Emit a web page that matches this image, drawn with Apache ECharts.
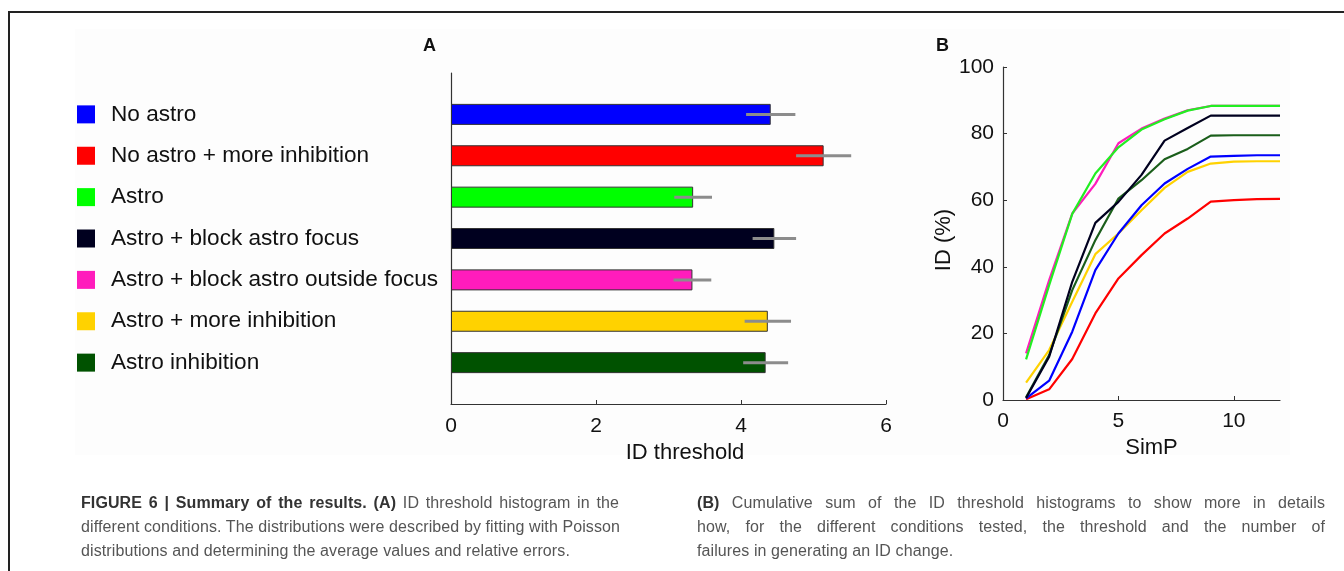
<!DOCTYPE html>
<html>
<head>
<meta charset="utf-8">
<script src="https://cdn.jsdelivr.net/npm/echarts@6/dist/echarts.min.js"></script>
<style>
html,body{margin:0;padding:0;background:#fff;}
#wrap{position:relative;width:1344px;height:571px;overflow:hidden;}
#chart{position:absolute;left:0;top:0;width:1344px;height:571px;}
.cap{position:absolute;top:491px;font-family:"Liberation Sans", Arial, Helvetica, sans-serif;font-size:16px;letter-spacing:0.1px;line-height:24px;color:#555;}
.cap div{white-space:nowrap;}
.cap .j{text-align:justify;text-align-last:justify;}
.cap b{color:#333;}
#cap1{left:81px;width:538px;}
#cap2{left:697px;width:628px;}
</style>
</head>
<body>
<div id="wrap">
<div id="chart"></div>
<div class="cap" id="cap1">
  <div class="j"><b>FIGURE 6 | Summary of the results. (A)</b> ID threshold histogram in the</div>
  <div class="j">different conditions. The distributions were described by fitting with Poisson</div>
  <div>distributions and determining the average values and relative errors.</div>
</div>
<div class="cap" id="cap2">
  <div class="j"><b>(B)</b> Cumulative sum of the ID threshold histograms to show more in details</div>
  <div class="j">how, for the different conditions tested, the threshold and the number of</div>
  <div>failures in generating an ID change.</div>
</div>
</div>
<script>
// ---- data ----
const conditions = ['No astro','No astro + more inhibition','Astro','Astro + block astro focus','Astro + block astro outside focus','Astro + more inhibition','Astro inhibition'];
const thresholdMean = [4.41, 5.14, 3.34, 4.46, 3.33, 4.37, 4.34];
const thresholdErr  = [0.34, 0.38, 0.26, 0.30, 0.26, 0.32, 0.31];
const thresholdTicks = [0, 2, 4, 6];

const simP = [1,2,3,4,5,6,7,8,9,10,11,12];
const idNoAstro        = [0.5, 5.8, 20.5, 39.0, 50.0, 58.5, 65.0, 69.4, 73.1, 73.3, 73.5, 73.5];
const idNoAstroMoreInh = [0.2, 3.2, 12.3, 26.0, 36.5, 43.5, 50.0, 54.5, 59.6, 60.0, 60.3, 60.4];
const idAstro          = [12.2, 34.5, 55.9, 68.0, 75.9, 81.2, 84.3, 86.9, 88.3, 88.3, 88.3, 88.3];
const idBlockFocus     = [0.6, 13.0, 35.5, 53.2, 59.5, 67.6, 77.9, 81.7, 85.4, 85.4, 85.4, 85.4];
const idBlockOutside   = [14.0, 36.0, 56.0, 64.9, 77.1, 81.5, 84.5, 87.0, 88.3, 88.3, 88.3, 88.3];
const idAstroMoreInh   = [5.2, 15.0, 29.5, 43.8, 50.0, 57.0, 63.7, 68.5, 71.0, 71.6, 71.7, 71.7];
const idAstroInh       = [0.8, 13.5, 33.0, 48.0, 60.5, 66.0, 72.3, 75.4, 79.4, 79.5, 79.5, 79.5];
const idTicks = [0, 20, 40, 60, 80, 100];
const simPTicks = [0, 5, 10];

// ---- styles ----
const colors = ['#0000ff','#ff0000','#00ff00','#00001f','#ff1cbc','#ffd200','#005200'];
const FONT = '"Liberation Sans", Arial, Helvetica, sans-serif';

const chart = echarts.init(document.getElementById('chart'), null, {renderer:'canvas'});

// category axis padded with empty slots at both ends
const yCats = [''].concat(conditions, ['']);
const barData = ['-'].concat(thresholdMean.map((v,i)=>({value:v, itemStyle:{color:colors[i]}})), ['-']);
const errData = thresholdMean.map((v,i)=>[i+1, v, thresholdErr[i]]);

const rich = { t: { fontSize: 22.6, fontFamily: FONT, color: '#111', padding: [0,0,0,16] } };
colors.forEach((c,i)=>{ rich['s'+i] = { width: 18, height: 18, backgroundColor: c }; });

const lineSets = [
  [idNoAstroMoreInh, colors[1]],
  [idAstroMoreInh, colors[5]],
  [idNoAstro, colors[0]],
  [idAstroInh, '#1a5e1a'],
  [idBlockFocus, colors[3]],
  [idBlockOutside, colors[4]],
  [idAstro, '#22ee22']
];

const axisLine = { show: true, lineStyle: { color: '#333', width: 1.2 } };

const option = {
  backgroundColor: 'transparent',
  animation: false,
  grid: [
    { left: 451, right: 1344-886, top: 73, bottom: 571-404 },
    { left: 1003, right: 1344-1280, top: 67, bottom: 571-400 }
  ],
  xAxis: [
    {
      gridIndex: 0, type: 'value', min: 0, max: 6, interval: 2,
      axisLine: axisLine, splitLine: { show: false },
      axisTick: { show: true, inside: true, length: 4, lineStyle: { color: '#333' }, customValues: thresholdTicks },
      axisLabel: { fontSize: 21, fontFamily: FONT, color: '#111', margin: 12, customValues: thresholdTicks },
      name: 'ID threshold', nameLocation: 'middle', nameGap: 28,
      nameTextStyle: { fontSize: 22, fontFamily: FONT, color: '#111', padding: [0,0,0,33] }
    },
    {
      gridIndex: 1, type: 'value', min: 0, max: 12,
      axisLine: axisLine, splitLine: { show: false },
      axisTick: { show: true, inside: true, length: 4, lineStyle: { color: '#333' }, customValues: simPTicks },
      axisLabel: { fontSize: 21, fontFamily: FONT, color: '#111', margin: 11, customValues: simPTicks },
      name: 'SimP', nameLocation: 'middle', nameGap: 34,
      nameTextStyle: { fontSize: 22, fontFamily: FONT, color: '#111', padding: [0,0,0,20] }
    }
  ],
  yAxis: [
    {
      gridIndex: 0, type: 'category', data: yCats, inverse: true, boundaryGap: false,
      axisLine: axisLine, axisTick: { show: false }, splitLine: { show: false },
      axisLabel: {
        show: true, align: 'left', margin: 451-77,
        formatter: function(val, idx){ return idx>=1 && idx<=conditions.length ? '{s'+(idx-1)+'|}{t|'+val+'}' : ''; },
        rich: rich
      }
    },
    {
      gridIndex: 1, type: 'value', min: 0, max: 100, interval: 20,
      axisLine: axisLine, splitLine: { show: false },
      axisTick: { show: true, inside: true, length: 4, lineStyle: { color: '#333' } },
      axisLabel: { fontSize: 21, fontFamily: FONT, color: '#111', margin: 9 },
      name: 'ID (%)', nameLocation: 'middle', nameGap: 46, nameRotate: 90,
      nameTextStyle: { fontSize: 22, fontFamily: FONT, color: '#111', padding: [0,13,0,0] }
    }
  ],
  series: [
    {
      type: 'bar', xAxisIndex: 0, yAxisIndex: 0, data: barData, barWidth: 21,
      itemStyle: { borderColor: '#333', borderWidth: 1 }, z: 2
    },
    {
      type: 'custom', xAxisIndex: 0, yAxisIndex: 0, data: errData, z: 5,
      renderItem: function(params, api){
        const c = api.value(0), v = api.value(1), e = api.value(2);
        const p1 = api.coord([v - e, c]);
        const p2 = api.coord([v + e, c]);
        return { type: 'line', shape: { x1: p1[0], y1: p1[1], x2: p2[0], y2: p2[1] },
                 style: { stroke: '#8c8c8c', lineWidth: 3 } };
      }
    }
  ].concat(lineSets.map((s, k)=>({
    type: 'line', xAxisIndex: 1, yAxisIndex: 1, showSymbol: false, symbol: 'none',
    data: s[0].map((y,i)=>[simP[i], y]),
    lineStyle: { color: s[1], width: 2.2 }, z: 3 + k*0.01
  }))),
  graphic: [
    { type: 'rect', z: -10, shape: { x: 75, y: 29, width: 1215, height: 426 }, style: { fill: '#fdfdfd' }, silent: true },
    { type: 'rect', shape: { x: 9, y: 12, width: 1400, height: 600 }, style: { fill: 'none', stroke: '#222', lineWidth: 2 }, silent: true },
    { type: 'text', left: 423, top: 37, style: { text: 'A', font: 'bold 18px ' + FONT, fill: '#111' } },
    { type: 'text', left: 936, top: 37, style: { text: 'B', font: 'bold 18px ' + FONT, fill: '#111' } }
  ]
};
chart.setOption(option);
</script>
</body>
</html>
